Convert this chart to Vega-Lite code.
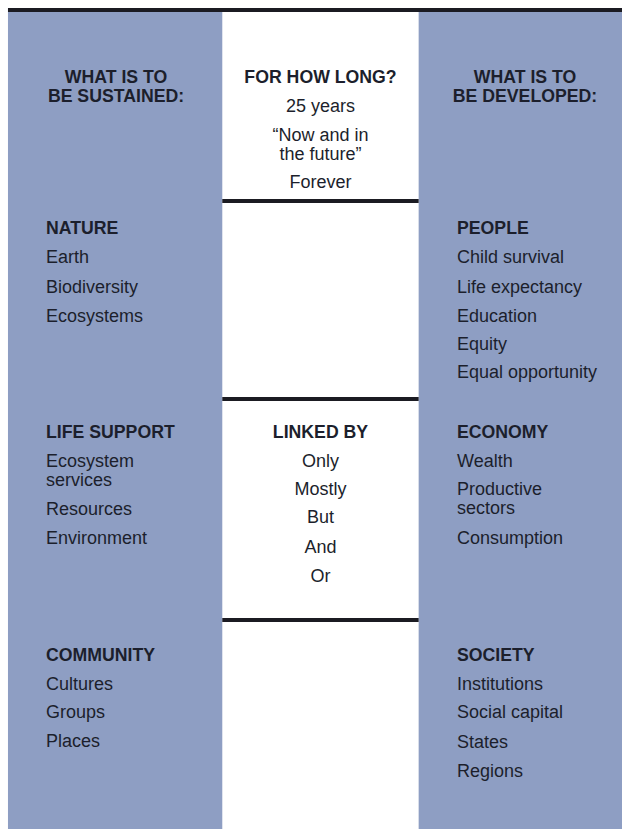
{
  "$schema": "https://vega.github.io/schema/vega-lite/v6.json",
  "width": 624,
  "height": 829,
  "autosize": {"type": "fit", "contains": "padding"},
  "padding": 0,
  "background": "white",
  "config": {"view": {"stroke": null}},
  "datasets": {
    "panels": [
      {"panel": "What is to be sustained", "left": 8, "right": 223, "top": 12, "bottom": 829},
      {"panel": "What is to be developed", "left": 420, "right": 624, "top": 12, "bottom": 829}
    ],
    "dividers": [
      {"divider": "top", "from": 8, "to": 624, "at": 10},
      {"divider": "time/nature", "from": 223, "to": 420, "at": 201},
      {"divider": "nature/life support", "from": 223, "to": 420, "at": 399},
      {"divider": "life support/community", "from": 223, "to": 420, "at": 620}
    ],
    "texts": [
      {"col": "left", "role": "heading", "y": 78, "label": "WHAT IS TO"},
      {"col": "left", "role": "heading", "y": 97, "label": "BE SUSTAINED:"},
      {"col": "left", "role": "category", "y": 229, "label": "NATURE"},
      {"col": "left", "role": "item", "y": 258, "label": "Earth"},
      {"col": "left", "role": "item", "y": 288, "label": "Biodiversity"},
      {"col": "left", "role": "item", "y": 317, "label": "Ecosystems"},
      {"col": "left", "role": "category", "y": 433, "label": "LIFE SUPPORT"},
      {"col": "left", "role": "item", "y": 462, "label": "Ecosystem\nservices"},
      {"col": "left", "role": "item", "y": 510, "label": "Resources"},
      {"col": "left", "role": "item", "y": 539, "label": "Environment"},
      {"col": "left", "role": "category", "y": 656, "label": "COMMUNITY"},
      {"col": "left", "role": "item", "y": 685, "label": "Cultures"},
      {"col": "left", "role": "item", "y": 713, "label": "Groups"},
      {"col": "left", "role": "item", "y": 742, "label": "Places"},
      {"col": "right", "role": "heading", "y": 78, "label": "WHAT IS TO"},
      {"col": "right", "role": "heading", "y": 97, "label": "BE DEVELOPED:"},
      {"col": "right", "role": "category", "y": 229, "label": "PEOPLE"},
      {"col": "right", "role": "item", "y": 258, "label": "Child survival"},
      {"col": "right", "role": "item", "y": 288, "label": "Life expectancy"},
      {"col": "right", "role": "item", "y": 317, "label": "Education"},
      {"col": "right", "role": "item", "y": 345, "label": "Equity"},
      {"col": "right", "role": "item", "y": 373, "label": "Equal opportunity"},
      {"col": "right", "role": "category", "y": 433, "label": "ECONOMY"},
      {"col": "right", "role": "item", "y": 462, "label": "Wealth"},
      {"col": "right", "role": "item", "y": 490, "label": "Productive\nsectors"},
      {"col": "right", "role": "item", "y": 539, "label": "Consumption"},
      {"col": "right", "role": "category", "y": 656, "label": "SOCIETY"},
      {"col": "right", "role": "item", "y": 685, "label": "Institutions"},
      {"col": "right", "role": "item", "y": 713, "label": "Social capital"},
      {"col": "right", "role": "item", "y": 743, "label": "States"},
      {"col": "right", "role": "item", "y": 772, "label": "Regions"},
      {"col": "mid", "role": "heading", "y": 78, "label": "FOR HOW LONG?"},
      {"col": "mid", "role": "item", "y": 107, "label": "25 years"},
      {"col": "mid", "role": "item", "y": 136, "label": "“Now and in\n  the future”"},
      {"col": "mid", "role": "item", "y": 183, "label": "Forever"},
      {"col": "mid", "role": "category", "y": 433, "label": "LINKED BY"},
      {"col": "mid", "role": "item", "y": 462, "label": "Only"},
      {"col": "mid", "role": "item", "y": 490, "label": "Mostly"},
      {"col": "mid", "role": "item", "y": 518, "label": "But"},
      {"col": "mid", "role": "item", "y": 548, "label": "And"},
      {"col": "mid", "role": "item", "y": 577, "label": "Or"}
    ]
  },
  "layer": [
    {
      "data": {"name": "panels"},
      "mark": {"type": "rect", "color": "#8e9ec3"},
      "encoding": {
        "x": {"field": "left", "type": "quantitative", "axis": null, "scale": {"domain": [0, 624], "nice": false, "zero": false}},
        "x2": {"field": "right"},
        "y": {"field": "top", "type": "quantitative", "axis": null, "scale": {"domain": [0, 829], "nice": false, "zero": false, "reverse": true}},
        "y2": {"field": "bottom"}
      }
    },
    {
      "data": {"name": "dividers"},
      "mark": {"type": "rule", "color": "#1b1b22", "strokeWidth": 4},
      "encoding": {
        "x": {"field": "from", "type": "quantitative", "axis": null, "scale": {"domain": [0, 624], "nice": false, "zero": false}},
        "x2": {"field": "to"},
        "y": {"field": "at", "type": "quantitative", "axis": null}
      }
    },
    {
      "data": {"name": "texts"},
      "transform": [{"filter": "(datum.col === 'mid' || datum.role === 'heading') && datum.role !== 'item'"}],
      "mark": {"type": "text", "font": "Liberation Sans", "fontSize": 17.7, "fontWeight": "bold", "align": "center", "baseline": "middle", "color": "#1c1f2c", "lineBreak": "\n", "lineHeight": 19},
      "encoding": {
        "x": {"field": "col", "type": "nominal", "axis": null, "scale": {"type": "point", "domain": ["left", "mid", "right"], "range": [116, 525], "padding": 0}},
        "y": {"field": "y", "type": "quantitative", "axis": null},
        "text": {"field": "label"}
      }
    },
    {
      "data": {"name": "texts"},
      "transform": [{"filter": "datum.col === 'mid' && datum.role === 'item'"}],
      "mark": {"type": "text", "font": "Liberation Sans", "fontSize": 18, "align": "center", "baseline": "middle", "color": "#1c1f2c", "lineBreak": "\n", "lineHeight": 19},
      "encoding": {
        "x": {"field": "col", "type": "nominal", "axis": null, "scale": {"type": "point", "domain": ["left", "mid", "right"], "range": [116, 525], "padding": 0}},
        "y": {"field": "y", "type": "quantitative", "axis": null},
        "text": {"field": "label"}
      }
    },
    {
      "data": {"name": "texts"},
      "transform": [{"filter": "datum.col !== 'mid' && datum.role === 'category'"}],
      "mark": {"type": "text", "font": "Liberation Sans", "fontSize": 17.7, "fontWeight": "bold", "align": "left", "baseline": "middle", "color": "#1c1f2c", "lineBreak": "\n", "lineHeight": 19},
      "encoding": {
        "x": {"field": "col", "type": "nominal", "axis": null, "scale": {"type": "point", "domain": ["left", "right"], "range": [46, 457], "padding": 0}},
        "y": {"field": "y", "type": "quantitative", "axis": null},
        "text": {"field": "label"}
      }
    },
    {
      "data": {"name": "texts"},
      "transform": [{"filter": "datum.col !== 'mid' && datum.role === 'item'"}],
      "mark": {"type": "text", "font": "Liberation Sans", "fontSize": 18, "align": "left", "baseline": "middle", "color": "#1c1f2c", "lineBreak": "\n", "lineHeight": 19},
      "encoding": {
        "x": {"field": "col", "type": "nominal", "axis": null, "scale": {"type": "point", "domain": ["left", "right"], "range": [46, 457], "padding": 0}},
        "y": {"field": "y", "type": "quantitative", "axis": null},
        "text": {"field": "label"}
      }
    }
  ],
  "resolve": {"scale": {"x": "independent"}}
}
